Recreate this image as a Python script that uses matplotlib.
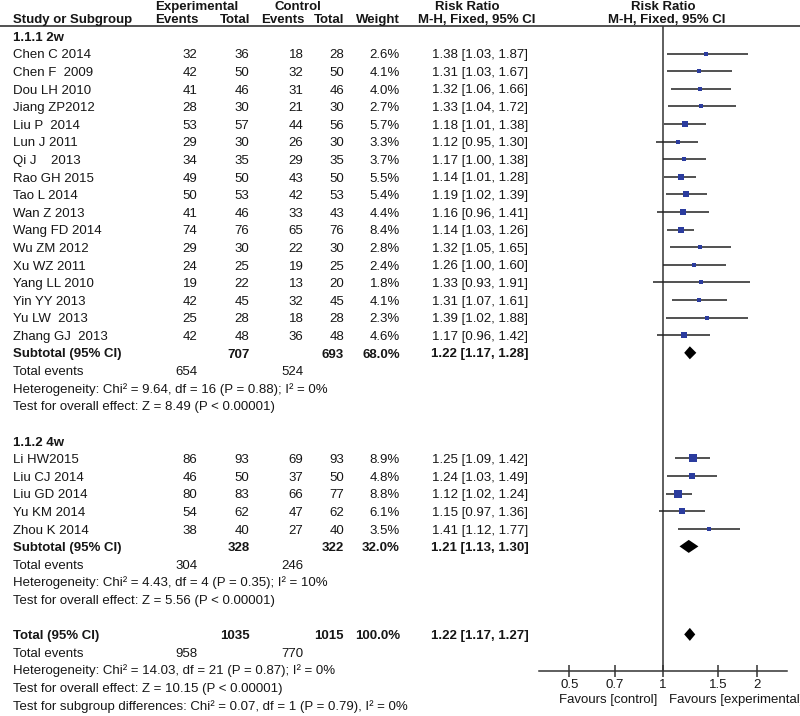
import numpy as np
import matplotlib.pyplot as plt
from matplotlib.ticker import FixedLocator, NullLocator

plt.rcParams['font.family'] = ['Liberation Sans', 'DejaVu Sans']

# --- data ---
studies_2w = ["Chen C 2014", "Chen F  2009", "Dou LH 2010", "Jiang ZP2012", "Liu P  2014",
              "Lun J 2011", "Qi J    2013", "Rao GH 2015", "Tao L 2014", "Wan Z 2013",
              "Wang FD 2014", "Wu ZM 2012", "Xu WZ 2011", "Yang LL 2010", "Yin YY 2013",
              "Yu LW  2013", "Zhang GJ  2013"]
exp_ev_2w = [32, 42, 41, 28, 53, 29, 34, 49, 50, 41, 74, 29, 24, 19, 42, 25, 42]
exp_n_2w = [36, 50, 46, 30, 57, 30, 35, 50, 53, 46, 76, 30, 25, 22, 45, 28, 48]
ctl_ev_2w = [18, 32, 31, 21, 44, 26, 29, 43, 42, 33, 65, 22, 19, 13, 32, 18, 36]
ctl_n_2w = [28, 50, 46, 30, 56, 30, 35, 50, 53, 43, 76, 30, 25, 20, 45, 28, 48]
weight_2w = [2.6, 4.1, 4.0, 2.7, 5.7, 3.3, 3.7, 5.5, 5.4, 4.4, 8.4, 2.8, 2.4, 1.8, 4.1, 2.3, 4.6]
rr_2w = [1.38, 1.31, 1.32, 1.33, 1.18, 1.12, 1.17, 1.14, 1.19, 1.16, 1.14, 1.32, 1.26, 1.33, 1.31, 1.39, 1.17]
lo_2w = [1.03, 1.03, 1.06, 1.04, 1.01, 0.95, 1.00, 1.01, 1.02, 0.96, 1.03, 1.05, 1.00, 0.93, 1.07, 1.02, 0.96]
hi_2w = [1.87, 1.67, 1.66, 1.72, 1.38, 1.30, 1.38, 1.28, 1.39, 1.41, 1.26, 1.65, 1.60, 1.91, 1.61, 1.88, 1.42]

studies_4w = ["Li HW2015", "Liu CJ 2014", "Liu GD 2014", "Yu KM 2014", "Zhou K 2014"]
exp_ev_4w = [86, 46, 80, 54, 38]
exp_n_4w = [93, 50, 83, 62, 40]
ctl_ev_4w = [69, 37, 66, 47, 27]
ctl_n_4w = [93, 50, 77, 62, 40]
weight_4w = [8.9, 4.8, 8.8, 6.1, 3.5]
rr_4w = [1.25, 1.24, 1.12, 1.15, 1.41]
lo_4w = [1.09, 1.03, 1.02, 0.97, 1.12]
hi_4w = [1.42, 1.49, 1.24, 1.36, 1.77]

# subtotal rows: 2w, 4w, overall
pooled_label = ["Subtotal (95% CI)", "Subtotal (95% CI)", "Total (95% CI)"]
pooled_exp_n = [707, 328, 1035]
pooled_ctl_n = [693, 322, 1015]
pooled_weight = [68.0, 32.0, 100.0]
pooled_rr = [1.22, 1.21, 1.22]
pooled_lo = [1.17, 1.13, 1.17]
pooled_hi = [1.28, 1.30, 1.27]
pooled_exp_ev = [654, 304, 958]
pooled_ctl_ev = [524, 246, 770]
heterogeneity = ["Heterogeneity: Chi² = 9.64, df = 16 (P = 0.88); I² = 0%",
                 "Heterogeneity: Chi² = 4.43, df = 4 (P = 0.35); I² = 10%",
                 "Heterogeneity: Chi² = 14.03, df = 21 (P = 0.87); I² = 0%"]
overall_effect = ["Test for overall effect: Z = 8.49 (P < 0.00001)",
                  "Test for overall effect: Z = 5.56 (P < 0.00001)",
                  "Test for overall effect: Z = 10.15 (P < 0.00001)"]
subgroup_test = "Test for subgroup differences: Chi² = 0.07, df = 1 (P = 0.79), I² = 0%"

tick_vals = [0.5, 0.7, 1, 1.5, 2]
tick_labels = ["0.5", "0.7", "1", "1.5", "2"]

# --- layout (figure pixels) ---
W, H = 800, 716
Y0, STEP = 36.0, 17.6
FS = 9.5
TXT = '#161616'
BLUE = '#2b3c9e'

def rowy(i):
    return Y0 + i * STEP

def base(y):
    return y + 4.7

fig = plt.figure(figsize=(W / 100, H / 100), dpi=100)
tx = fig.add_axes([0, 0, 1, 1])
tx.set_xlim(0, W)
tx.set_ylim(H, 0)
tx.axis('off')

# forest panel: log axis 0.4 .. 2.5, x=1 at 663 px
ax_left, ax_right, ax_top, ax_bot = 539.3, 786.7, 26, 671
ax = fig.add_axes([ax_left / W, (H - ax_bot) / H, (ax_right - ax_left) / W, (ax_bot - ax_top) / H])
ax.set_xscale('log')
ax.set_xlim(0.4, 2.5)
ax.set_ylim(ax_bot, ax_top)
ax.patch.set_alpha(0)
for s in ['top', 'left', 'right']:
    ax.spines[s].set_visible(False)
ax.spines['bottom'].set_color('#333333')
ax.spines['bottom'].set_linewidth(1.1)
ax.set_yticks([])
ax.xaxis.set_major_locator(FixedLocator(tick_vals))
ax.xaxis.set_minor_locator(NullLocator())
ax.set_xticklabels(tick_labels, fontsize=FS, color=TXT)
ax.tick_params(axis='x', direction='inout', length=8, width=1.1, color='#333333', pad=1.5)
ax.axvline(1, color='#333333', lw=1.1)

# column positions
X_NAME, X_EEV, X_EN, X_CEV, X_CN, X_W, X_RR = 13, 197.5, 249.5, 303.5, 344, 400, 480

def txt(x, y, s, ha='left', bold=False):
    tx.text(x, base(y), s, ha=ha, va='baseline', fontsize=FS, color=TXT,
            fontweight='bold' if bold else 'normal')

# header
yh1, yh2 = rowy(-2) + 4.5, rowy(-1)
txt(197, yh1, "Experimental", 'center', True)
txt(297.5, yh1, "Control", 'center', True)
txt(467, yh1, "Risk Ratio", 'center', True)
txt(663.5, yh1, "Risk Ratio", 'center', True)
txt(X_NAME, yh2, "Study or Subgroup", bold=True)
txt(198, yh2, "Events", 'right', True)
txt(250, yh2, "Total", 'right', True)
txt(304, yh2, "Events", 'right', True)
txt(344, yh2, "Total", 'right', True)
txt(400, yh2, "Weight", 'right', True)
txt(477, yh2, "M-H, Fixed, 95% CI", 'center', True)
txt(666.5, yh2, "M-H, Fixed, 95% CI", 'center', True)
tx.axhline(26, color='#333333', lw=1.2)

def study_block(start, names, eev, en, cev, cn, w, rr, lo, hi):
    for k, name in enumerate(names):
        y = rowy(start + k)
        txt(X_NAME, y, name)
        txt(X_EEV, y, str(eev[k]), 'right')
        txt(X_EN, y, str(en[k]), 'right')
        txt(X_CEV, y, str(cev[k]), 'right')
        txt(X_CN, y, str(cn[k]), 'right')
        txt(X_W, y, f"{w[k]:.1f}%", 'right')
        txt(X_RR, y, f"{rr[k]:.2f} [{lo[k]:.2f}, {hi[k]:.2f}]", 'center')
        ax.hlines(y, lo[k], hi[k], colors='#222222', lw=1.1)
        ax.scatter([rr[k]], [y], marker='s', s=3.0 * w[k], color=BLUE, zorder=3, linewidths=0)

def pooled_block(row, j):
    y = rowy(row)
    txt(X_NAME, y, pooled_label[j], bold=True)
    txt(X_EN, y, str(pooled_exp_n[j]), 'right', True)
    txt(X_CN, y, str(pooled_ctl_n[j]), 'right', True)
    txt(X_W, y, f"{pooled_weight[j]:.1f}%", 'right', True)
    txt(X_RR, y, f"{pooled_rr[j]:.2f} [{pooled_lo[j]:.2f}, {pooled_hi[j]:.2f}]", 'center', True)
    ax.fill([pooled_lo[j], pooled_rr[j], pooled_hi[j], pooled_rr[j]],
            [y, y - 6.5, y, y + 6.5], color='black', lw=0, zorder=3)
    txt(X_NAME, rowy(row + 1), "Total events")
    txt(X_EEV, rowy(row + 1), str(pooled_exp_ev[j]), 'right')
    txt(X_CEV, rowy(row + 1), str(pooled_ctl_ev[j]), 'right')
    txt(X_NAME, rowy(row + 2), heterogeneity[j])
    txt(X_NAME, rowy(row + 3), overall_effect[j])

txt(X_NAME, rowy(0), "1.1.1 2w", bold=True)
study_block(1, studies_2w, exp_ev_2w, exp_n_2w, ctl_ev_2w, ctl_n_2w, weight_2w, rr_2w, lo_2w, hi_2w)
pooled_block(1 + len(studies_2w), 0)

g2 = len(studies_2w) + 6
txt(X_NAME, rowy(g2), "1.1.2 4w", bold=True)
study_block(g2 + 1, studies_4w, exp_ev_4w, exp_n_4w, ctl_ev_4w, ctl_n_4w, weight_4w, rr_4w, lo_4w, hi_4w)
tot = g2 + 1 + len(studies_4w) + 5
pooled_block(g2 + 1 + len(studies_4w), 1)
pooled_block(tot, 2)
txt(X_NAME, rowy(tot + 4), subgroup_test)

# favours labels under the axis
txt(657, 698, "Favours [control]", 'right')
txt(669, 698, "Favours [experimental]", 'left')

fig.savefig('out.png', dpi=100)
